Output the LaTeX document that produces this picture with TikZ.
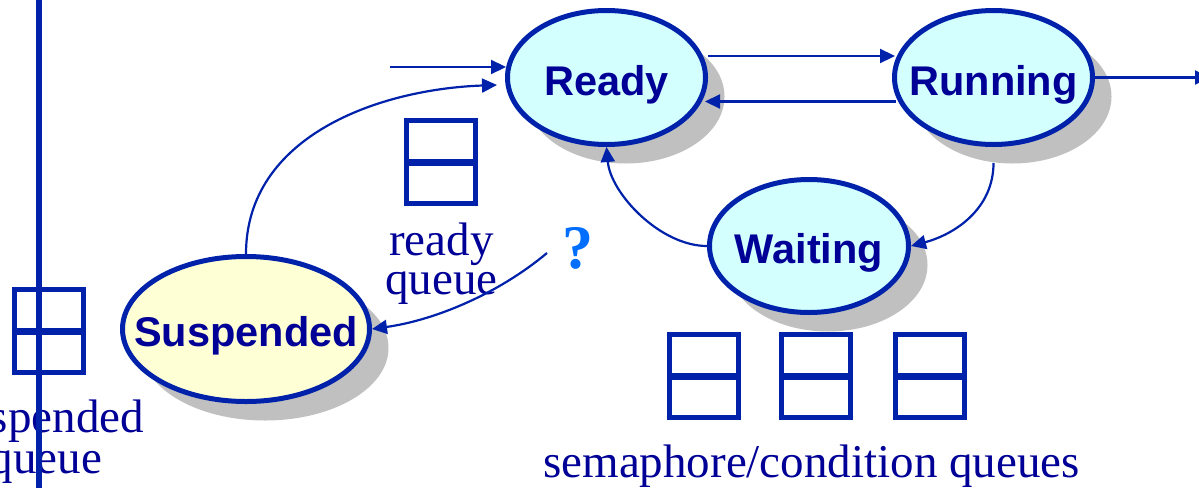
\documentclass[tikz,border=0pt]{standalone}
\usepackage{fontspec}
\setmainfont{Liberation Serif}
\newfontfamily\labfont{Liberation Sans}
\usetikzlibrary{shapes.geometric,arrows.meta,shadows}
\definecolor{lineblue}{RGB}{0,34,170}
\definecolor{navy}{RGB}{0,0,150}
\definecolor{cyanfill}{RGB}{212,255,255}
\definecolor{yellowfill}{RGB}{255,255,214}
\definecolor{shadowgray}{RGB}{192,192,192}
\definecolor{qblue}{RGB}{0,110,255}
\newcommand{\statelabel}[1]{\raisebox{-17.5pt}[0pt][0pt]{\makebox[0pt]{\labfont\bfseries\fontsize{41.5}{44}\selectfont\color{navy}#1}}}
\tikzset{
  stnode/.style={ellipse, draw=lineblue, line width=5pt, inner sep=0pt,
    drop shadow={shadow xshift=19pt, shadow yshift=-19pt, fill=shadowgray, opacity=1}},
  conn/.style={draw=lineblue, line width=2.2pt, -{Triangle[length=15pt,width=14pt]}},
  qline/.style={draw=lineblue, line width=5pt},
  qlabel/.style={font=\fontsize{47}{40}\selectfont, text=navy, inner sep=0pt, anchor=base},
  qmarkstyle/.style={font=\bfseries\fontsize{62}{62}\selectfont, text=qblue, inner sep=0pt},
  qbox/.pic={
    \draw[qline] (0,0) rectangle (69,83);
    \draw[lineblue, line width=7pt] (-2.5,41.5) -- (71.5,41.5);
  }
}
\begin{document}
\begin{tikzpicture}[x=1pt, y=-1pt]
\useasboundingbox (0,0) rectangle (1199,488);
\clip (0,0) rectangle (1199,488);

% states
\node[stnode, fill=cyanfill, minimum width=198pt, minimum height=134pt] (ready) at (606.5,77.5) {\statelabel{Ready}};
\node[stnode, fill=cyanfill, minimum width=198pt, minimum height=134pt] (running) at (993.5,77.5) {\statelabel{Running}};
\node[stnode, fill=cyanfill, minimum width=199pt, minimum height=133pt] (waiting) at (809,246) {\statelabel{Waiting}};
\node[stnode, fill=yellowfill, minimum width=247pt, minimum height=145pt] (susp) at (246,329) {\statelabel{Suspended}};

% queues
\pic at (406.5,120.5) {qbox};
\pic at (14.5,289.5) {qbox};
\pic at (669.5,334.5) {qbox};
\pic at (781.5,334.5) {qbox};
\pic at (895.5,334.5) {qbox};

% labels
\node[qlabel] (rq1) at (441.5,255) {ready};
\node[qlabel] (rq2) at (441.5,294) {queue};
\node[qlabel] (sq1) at (46,432) {suspended};
\node[qlabel] (sq2) at (46,473) {queue};
\node[qlabel] (semq) at (811.5,477) {semaphore/condition queues};
\node[qmarkstyle] (qm) at (578,248) {?};

% connectors
\coordinate (inS) at (390,67);
\draw[conn] (inS) -- ([xshift=1pt]inS -| ready.west);
\draw[conn] ([yshift=21.5pt]ready.east) -- ([xshift=3pt,yshift=21.5pt]running.west);
\draw[conn] ([xshift=4pt,yshift=-24pt]running.west) -- ([xshift=-3pt,yshift=-24pt]ready.east);
\coordinate (outE) at (1210,77.5);
\draw[conn] (running.east) -- (outE);
\draw[conn] (susp.north) to[out=90,in=182] ([xshift=-8pt,yshift=-7.5pt]ready.west);
\draw[conn] (waiting.west) to[out=180,in=-85,looseness=0.85] (ready.south);
\draw[conn] ([yshift=-16pt]running.south) to[out=-90,in=15] (waiting.east);
\coordinate (qS) at (547,253);
\draw[conn] (qS) to[out=-140,in=8,looseness=0.85] (susp.east);

% vertical divider
\coordinate (vt) at (38.5,0);
\coordinate (vb) at (38.5,488);
\draw[lineblue, line width=6pt] (vt) -- (vb);
\end{tikzpicture}
\end{document}
